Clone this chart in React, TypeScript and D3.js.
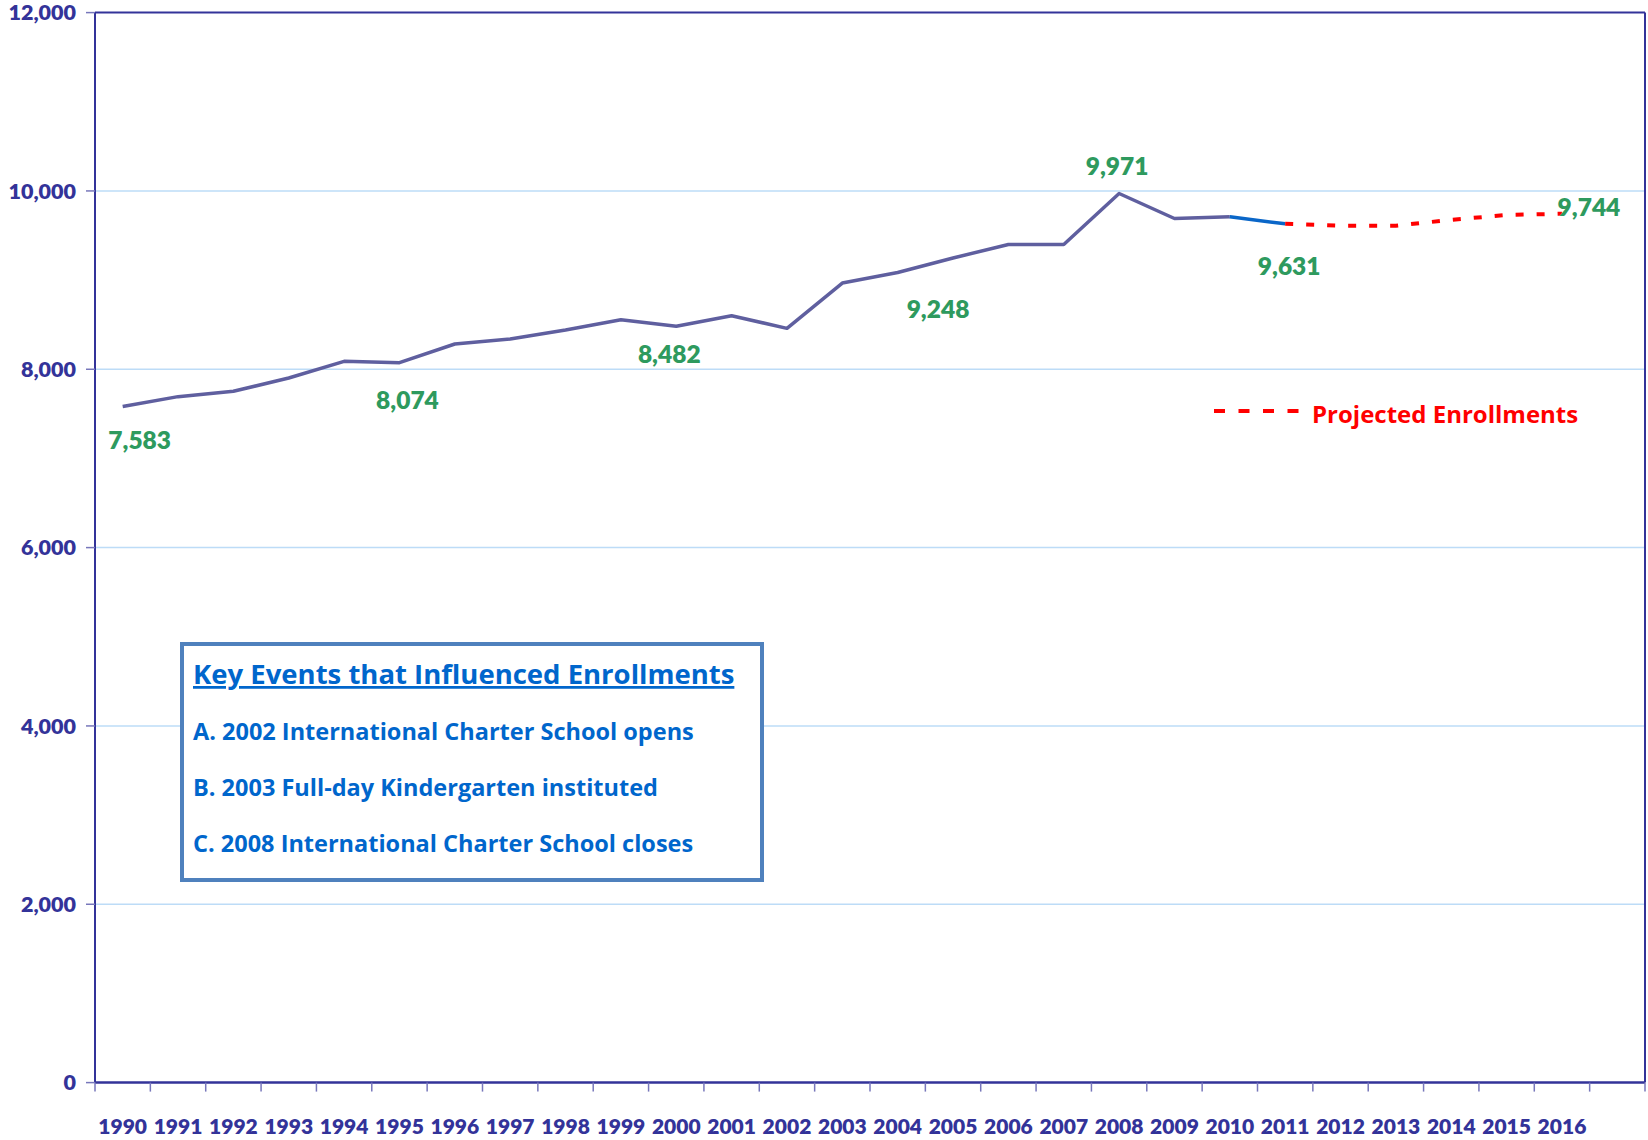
import React, { useEffect } from "react";
import * as d3 from "d3";

const years = ["1990","1991","1992","1993","1994","1995","1996","1997","1998","1999","2000","2001","2002","2003","2004","2005","2006","2007","2008","2009","2010","2011","2012","2013","2014","2015","2016",""];
const actualEnrollment = [7583, 7693, 7753, 7902, 8089, 8074, 8283, 8339, 8440, 8556, 8482, 8600, 8459, 8967, 9086, 9248, 9400, 9400, 9971, 9691, 9710, 9631];
const projectedYears = ["2011","2012","2013","2014","2015","2016"];
const projectedEnrollment = [9631, 9610, 9610, 9676, 9730, 9744];
const labeledYears = ["1990","1995","2000","2005","2008","2011","2016"];
const yTicks = [0, 2000, 4000, 6000, 8000, 10000, 12000];
const legendLabel = "Projected Enrollments";
const boxTitle = "Key Events that Influenced Enrollments";
const boxItems = [
  "A. 2002 International Charter School opens",
  "B. 2003 Full-day Kindergarten instituted",
  "C. 2008 International Charter School closes",
];

const labelOffsets: Record<string, [number, number]> = {
  "1990": [17, 34], "1995": [8, 38], "2000": [-7, 28], "2005": [-15, 51],
  "2008": [-2, -27], "2011": [4, 42], "2016": [27, -7],
};

const W = 1648, H = 1140;
const L = 95, R = 1645, T = 12.6, B = 1082.6;
const FONT = "Lato, 'Open Sans', sans-serif";
const FONT2 = "'Open Sans', Lato, sans-serif";
const AXIS = "#333399";

export default function App() {
  useEffect(() => { document.body.style.margin = "0"; }, []);
  const x = d3.scaleBand<string>().domain(years.map((d, i) => d || "_" + i)).range([L, R]).paddingInner(0).paddingOuter(0);
  const xc = (yr: string) => (x(yr) as number) + x.bandwidth() / 2;
  const y = d3.scaleLinear().domain([0, 12000]).range([B, T]);
  const actualPts = actualEnrollment.map((v, i) => [xc(years[i]), y(v)] as [number, number]);
  const line = d3.line<[number, number]>();
  const mainPath = line(actualPts.slice(0, 21)) as string;
  const bluePath = line(actualPts.slice(20, 22)) as string;
  const projPath = line(projectedYears.map((yr, i) => [xc(yr), y(projectedEnrollment[i])] as [number, number])) as string;
  const valueOf = (yr: string) => {
    const i = years.indexOf(yr);
    if (i < actualEnrollment.length) return actualEnrollment[i];
    return projectedEnrollment[projectedYears.indexOf(yr)];
  };
  const fmt = d3.format(",");
  const tickXs = years.map((d, i) => x(d || "_" + i) as number).concat([R]);

  return (
    <svg width={W} height={H} style={{ position: "absolute", left: 0, top: 0, background: "#fff" }} fontFamily={FONT}>
      {yTicks.filter(t => t > 0 && t < 12000).map(t => (
        <line key={t} x1={L} x2={R} y1={y(t)} y2={y(t)} stroke="#bddcf7" strokeWidth={1.5} />
      ))}
      <line x1={L} x2={R} y1={T} y2={T} stroke={AXIS} strokeWidth={2} />
      <line x1={R} x2={R} y1={T} y2={B} stroke={AXIS} strokeWidth={2} />
      <line x1={L} x2={L} y1={T} y2={B} stroke={AXIS} strokeWidth={2} />
      <line x1={L} x2={R} y1={B} y2={B} stroke={AXIS} strokeWidth={2.5} />
      {yTicks.map(t => (
        <g key={t}>
          <line x1={L - 9} x2={L} y1={y(t)} y2={y(t)} stroke="#7777bb" strokeWidth={1.5} />
          <text x={76} y={y(t)} dy="0.36em" textAnchor="end" fontSize={21.5} fontWeight={800} fill={AXIS}>{fmt(t)}</text>
        </g>
      ))}
      {tickXs.map((tx, i) => (
        <line key={i} x1={tx} x2={tx} y1={B} y2={B + 9} stroke="#7777bb" strokeWidth={1.5} />
      ))}
      {years.map((yr, i) => yr ? (
        <text key={i} x={xc(yr)} y={1134} textAnchor="middle" fontSize={21} fontWeight={800} fill={AXIS}>{yr}</text>
      ) : null)}
      <path d={mainPath} fill="none" stroke="#5f5f9f" strokeWidth={3.5} strokeLinejoin="round" />
      <path d={bluePath} fill="none" stroke="#0a66c8" strokeWidth={3.5} />
      <path d={projPath} fill="none" stroke="#ff0000" strokeWidth={4} strokeDasharray="8,13" />
      {labeledYears.map(yr => {
        const [dx, dy] = labelOffsets[yr];
        const v = valueOf(yr);
        return (
          <text key={yr} x={xc(yr) + dx} y={y(v) + dy} dy="0.36em" textAnchor="middle" fontSize={24.5} fontWeight={800} fill="#2e9a5e">{fmt(v)}</text>
        );
      })}
      <line x1={1214} x2={1300} y1={411} y2={411} stroke="#ff0000" strokeWidth={4} strokeDasharray="11,13.5" />
      <text x={1312} y={414} dy="0.36em" fontFamily={FONT2} fontSize={24} fontWeight={700} fill="#ff0000">{legendLabel}</text>
      <rect x={182} y={644} width={580} height={236} fill="#fff" stroke="#4f81bd" strokeWidth={4} />
      <text x={193} y={684} fontFamily={FONT2} fontSize={27.5} fontWeight={700} fill="#0066cc" textDecoration="underline">{boxTitle}</text>
      {boxItems.map((t, i) => (
        <text key={i} x={193} y={740 + i * 56} fontFamily={FONT2} fontSize={23.5} fontWeight={700} fill="#0066cc">{t}</text>
      ))}
    </svg>
  );
}
